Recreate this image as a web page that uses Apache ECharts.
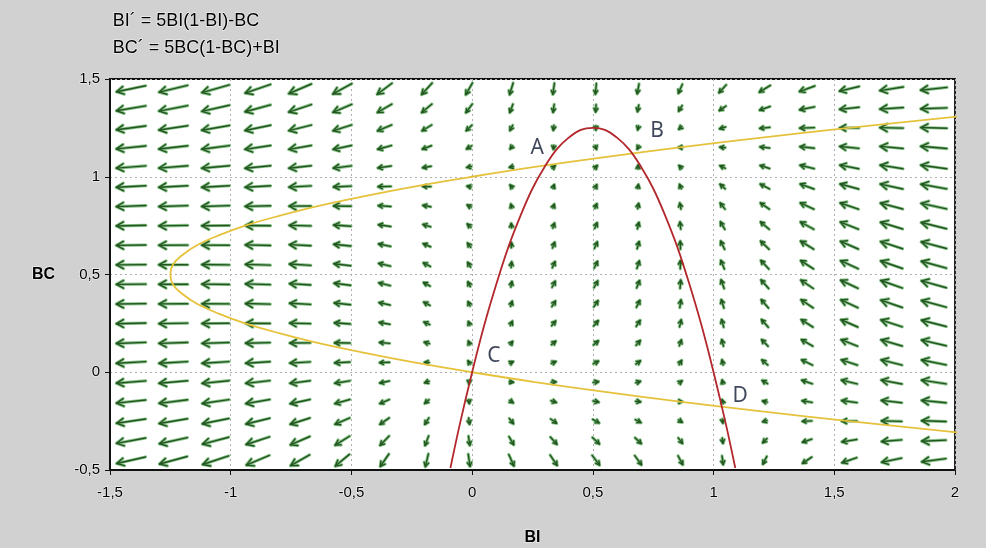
<!DOCTYPE html>
<html>
<head>
<meta charset="utf-8">
<style>
html, body { margin: 0; padding: 0; background: #fff; }
#chart { width: 986px; height: 548px; }
</style>
<script src="https://cdn.jsdelivr.net/npm/echarts@6/dist/echarts.min.js"></script>
</head>
<body>
<div id="chart"></div>
<script>
// equations shown in the corner, used for the direction field
const eqLines = ['BI\u00b4 = 5BI(1-BI)-BC', 'BC\u00b4 = 5BC(1-BC)+BI']

// arrow centres (20 x 20 grid)
const biCols = [-1.4125, -1.2375, -1.0625, -0.8875, -0.7125, -0.5375, -0.3625, -0.1875, -0.0125, 0.1625,
  0.3375, 0.5125, 0.6875, 0.8625, 1.0375, 1.2125, 1.3875, 1.5625, 1.7375, 1.9125]
const bcRows = [-0.45, -0.35, -0.25, -0.15, -0.05, 0.05, 0.15, 0.25, 0.35, 0.45,
  0.55, 0.65, 0.75, 0.85, 0.95, 1.05, 1.15, 1.25, 1.35, 1.45]

// red curve (BI' = 0)
const redBI = [-0.09, -0.05, 0, 0.05, 0.1, 0.15, 0.2, 0.25, 0.3, 0.35, 0.4, 0.45, 0.5,
  0.55, 0.6, 0.65, 0.7, 0.75, 0.8, 0.85, 0.9, 0.95, 1.0, 1.05, 1.09]
const redBC = [-0.49, -0.26, 0, 0.24, 0.45, 0.64, 0.8, 0.94, 1.05, 1.14, 1.2, 1.24, 1.25,
  1.24, 1.2, 1.14, 1.05, 0.94, 0.8, 0.64, 0.45, 0.24, 0, -0.26, -0.49]

// yellow curve (BC' = 0)
const yellowBC = [-0.32, -0.25, -0.2, -0.15, -0.1, -0.05, 0, 0.05, 0.1, 0.15, 0.2, 0.25, 0.3, 0.35, 0.4, 0.45, 0.5,
  0.55, 0.6, 0.65, 0.7, 0.75, 0.8, 0.85, 0.9, 0.95, 1.0, 1.05, 1.1, 1.15, 1.2, 1.25, 1.32]
const yellowBI = [2.11, 1.56, 1.2, 0.86, 0.55, 0.26, 0, -0.24, -0.45, -0.64, -0.8, -0.94, -1.05, -1.14, -1.2, -1.24, -1.25,
  -1.24, -1.2, -1.14, -1.05, -0.94, -0.8, -0.64, -0.45, -0.24, 0, 0.26, 0.55, 0.86, 1.2, 1.56, 2.11]

// labelled crossings
const pointNames = ['A', 'B', 'C', 'D']
const pointBI = [0.27, 0.766, 0.09, 1.11]
const pointBC = [1.148, 1.232, 0.082, -0.122]

let chart = echarts.init(document.getElementById('chart'))

let arrowData = []
bcRows.forEach(bc => {
  biCols.forEach(bi => {
    let dBI = 5 * bi * (1 - bi) - bc
    let dBC = 5 * bc * (1 - bc) + bi
    arrowData.push([bi, bc, dBI, dBC])
  })
})

function arrowShape (p, dx, dy, len) {
  let x1 = p[0] - dx * len / 2, y1 = p[1] - dy * len / 2
  let x2 = p[0] + dx * len / 2, y2 = p[1] + dy * len / 2
  let h = Math.max(4, Math.min(8, len * 0.35))
  let a = 0.5
  let c = Math.cos(a), s = Math.sin(a)
  let w1 = [x2 - h * (dx * c - dy * s), y2 - h * (dx * s + dy * c)]
  let w2 = [x2 - h * (dx * c + dy * s), y2 - h * (-dx * s + dy * c)]
  return { shaft: [[x1, y1], [x2, y2]], head: [w1, [x2, y2], w2] }
}

function renderArrow (params, api) {
  let bi = api.value(0), bc = api.value(1)
  let p = api.coord([bi, bc])
  let q = api.coord([bi + api.value(2) * 1e-3, bc + api.value(3) * 1e-3])
  let dx = q[0] - p[0], dy = q[1] - p[1]
  let n = Math.hypot(dx, dy) || 1
  dx /= n
  dy /= n
  let mag = Math.hypot(api.value(2), api.value(3))
  // long arrows saturate, short ones shrink
  let len = Math.max(4, 30 * Math.tanh(mag / 7.5))
  let sh = arrowShape(p, dx, dy, len)
  let halo = { stroke: '#8cc28c', lineWidth: 3.2, fill: null, lineCap: 'round', lineJoin: 'round' }
  let core = { stroke: '#21561f', lineWidth: 1.4, fill: null, lineCap: 'round', lineJoin: 'round' }
  return {
    type: 'group',
    children: [
      { type: 'polyline', shape: { points: sh.shaft }, style: halo },
      { type: 'polyline', shape: { points: sh.head }, style: halo },
      { type: 'polyline', shape: { points: sh.shaft }, style: core },
      { type: 'polyline', shape: { points: sh.head }, style: core }
    ]
  }
}

const fmt = v => String(v).replace('.', ',')
const labelStyle = {
  fontSize: 15,
  color: '#000',
  fontFamily: 'Liberation Sans, Arial, sans-serif',
  textBorderColor: 'rgba(255,255,255,0.6)',
  textBorderWidth: 1.5
}

let option = {
  backgroundColor: '#d1d1d1',
  animation: false,
  grid: {
    left: 110,
    top: 79,
    width: 845,
    height: 391,
    outerBoundsMode: 'none',
    containLabel: false,
    show: true,
    backgroundColor: '#fff',
    borderColor: '#111',
    borderWidth: 1.8
  },
  graphic: eqLines.map((t, i) => ({
    type: 'text',
    left: 112,
    top: 11 + i * 27,
    style: {
      text: t,
      fontSize: 18,
      fill: '#000',
      fontFamily: 'Liberation Sans, Arial, sans-serif',
      stroke: 'rgba(255,255,255,0.6)',
      lineWidth: 1.5
    }
  })),
  xAxis: {
    type: 'value',
    min: -1.5,
    max: 2,
    interval: 0.5,
    name: 'BI',
    nameLocation: 'middle',
    nameGap: 60,
    nameTextStyle: Object.assign({}, labelStyle, { fontWeight: 'bold', fontSize: 16 }),
    axisLine: { show: true, onZero: false, lineStyle: { color: '#111', width: 1.8 } },
    axisTick: { show: true, length: 5, lineStyle: { color: '#111' } },
    axisLabel: Object.assign({ formatter: fmt, margin: 15 }, labelStyle),
    splitLine: { show: true, lineStyle: { color: '#b0b0b0', type: [2, 3], width: 1 } }
  },
  yAxis: {
    type: 'value',
    min: -0.5,
    max: 1.5,
    interval: 0.5,
    name: 'BC',
    nameLocation: 'middle',
    nameRotate: 0,
    nameGap: 55,
    nameTextStyle: Object.assign({}, labelStyle, { fontWeight: 'bold', fontSize: 16 }),
    axisLine: { show: true, onZero: false, lineStyle: { color: '#111', width: 2 } },
    axisTick: { show: true, length: 5, lineStyle: { color: '#111' } },
    axisLabel: Object.assign({ formatter: fmt, margin: 10 }, labelStyle),
    splitLine: { show: true, lineStyle: { color: '#b0b0b0', type: [2, 3], width: 1 } }
  },
  series: [
    {
      type: 'custom',
      renderItem: renderArrow,
      data: arrowData,
      z: 2,
      silent: true
    },
    {
      type: 'line',
      data: yellowBI.map((v, i) => [v, yellowBC[i]]),
      smooth: 0.4,
      showSymbol: false,
      lineStyle: { color: '#e6c23c', width: 1.8 },
      z: 3
    },
    {
      type: 'line',
      data: redBI.map((v, i) => [v, redBC[i]]),
      smooth: 0.4,
      showSymbol: false,
      lineStyle: { color: '#b3282c', width: 1.8 },
      z: 4
    },
    {
      type: 'scatter',
      data: pointNames.map((n, i) => ({ name: n, value: [pointBI[i], pointBC[i]] })),
      symbolSize: 0,
      z: 5,
      label: {
        show: true,
        position: 'inside',
        formatter: p => p.name,
        fontSize: 21,
        color: '#0e1830',
        fontFamily: 'Noto Sans, Liberation Sans, sans-serif'
      }
    }
  ]
}

chart.setOption(option)
</script>
</body>
</html>
